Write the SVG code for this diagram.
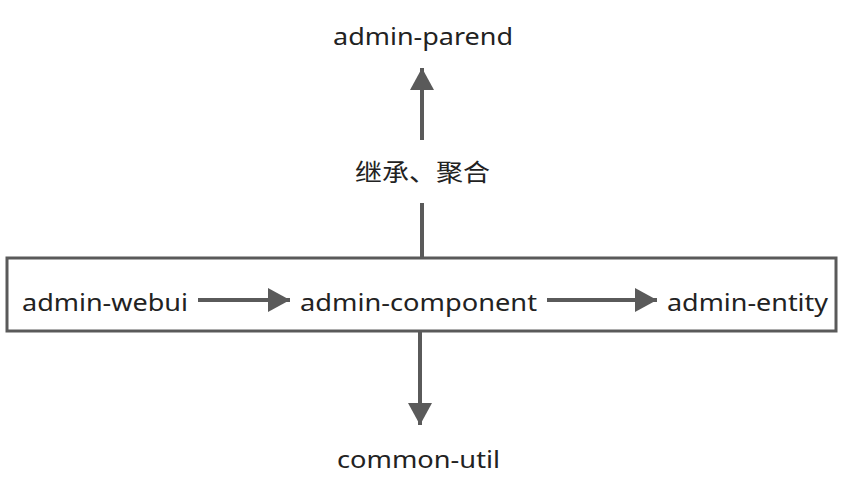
<svg xmlns="http://www.w3.org/2000/svg" width="846" height="494" viewBox="0 0 846 494">
<style>
.t{font-family:"Noto Sans","Liberation Sans","Noto Sans CJK SC",sans-serif;font-size:23px;fill:#222;}
.c{font-family:"Noto Sans CJK SC","Noto Sans",sans-serif;font-size:24px;fill:#222;}
.l{stroke:#5a5a5a;stroke-width:4;fill:none;}
</style>
<defs>
<marker id="ah" markerUnits="userSpaceOnUse" markerWidth="22" markerHeight="24" refX="22" refY="12" orient="auto">
<path d="M0,0 L22,12 L0,24 Z" fill="#5a5a5a"/>
</marker>
</defs>
<g id="group">
<rect x="7" y="258" width="829" height="73" fill="#fff" stroke="#5a5a5a" stroke-width="3"/>
</g>
<g id="connectors">
<line class="l" x1="422" y1="258" x2="422" y2="203"/>
<line class="l" x1="422" y1="140" x2="422" y2="68" marker-end="url(#ah)"/>
<line class="l" x1="420" y1="331" x2="420" y2="425" marker-end="url(#ah)"/>
<line class="l" x1="198" y1="300" x2="290" y2="300" marker-end="url(#ah)"/>
<line class="l" x1="547" y1="300" x2="657" y2="300" marker-end="url(#ah)"/>
</g>
<g id="admin-parend"><text class="t" x="333" y="45" textLength="180" lengthAdjust="spacingAndGlyphs">admin-parend</text></g>
<g id="label"><text class="c" x="355" y="181" textLength="135" lengthAdjust="spacingAndGlyphs">继承、聚合</text></g>
<g id="admin-webui"><text class="t" x="22" y="311" textLength="166" lengthAdjust="spacingAndGlyphs">admin-webui</text></g>
<g id="admin-component"><text class="t" x="300" y="311" textLength="237" lengthAdjust="spacingAndGlyphs">admin-component</text></g>
<g id="admin-entity"><text class="t" x="667" y="311" textLength="161" lengthAdjust="spacingAndGlyphs">admin-entity</text></g>
<g id="common-util"><text class="t" x="337" y="468" textLength="163" lengthAdjust="spacingAndGlyphs">common-util</text></g>
</svg>
